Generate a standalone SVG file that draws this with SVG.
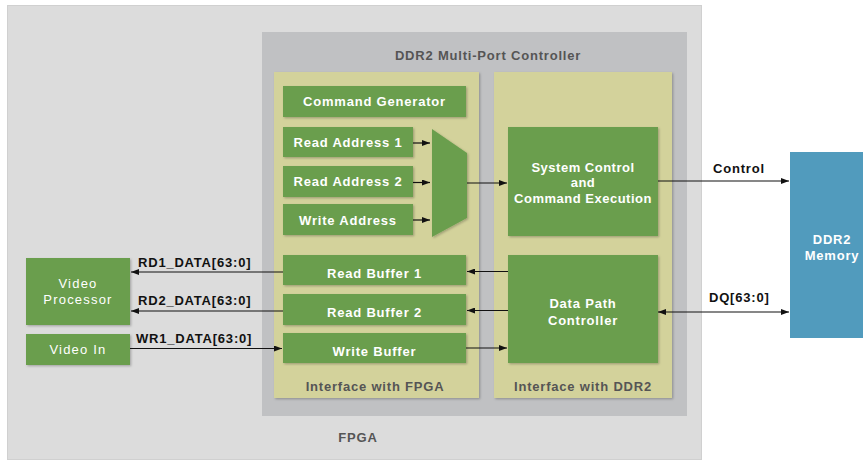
<svg xmlns="http://www.w3.org/2000/svg" width="863" height="461" viewBox="0 0 863 461">
  <defs>
    <filter id="shadow" x="-5%" y="-5%" width="115%" height="115%">
      <feDropShadow dx="1.2" dy="1.2" stdDeviation="0.8" flood-color="#000" flood-opacity="0.25"/>
    </filter>
    <marker id="arrow" viewBox="0 0 8 6" refX="8" refY="3" markerWidth="8" markerHeight="6" markerUnits="userSpaceOnUse" orient="auto-start-reverse">
      <path d="M0,0 L8,3 L0,6 Z" fill="#111"/>
    </marker>
    <style>
      .fpga { fill: #dcdcdc; stroke: #d0d0d0; stroke-width: 1; }
      .ctrl { fill: #c0c1c3; }
      .panel { fill: #d3d29b; filter: url(#shadow); }
      .blk { fill: #6b9e4e; filter: url(#shadow); }
      .mem { fill: #519bbd; }
      .t { font-family: "Liberation Sans", Arial, sans-serif; font-size: 13px; font-weight: bold; letter-spacing: 0.8px; text-anchor: middle; }
      .tight { letter-spacing: 0.5px; }
      .w { fill: #ffffff; }
      .wl { fill: #ffffff; font-weight: normal; letter-spacing: 1.2px; }
      .g { fill: #555555; }
      .k { fill: #111111; text-anchor: start; }
      .wire { stroke: #111; stroke-width: 1.2; fill: none; }
    </style>
  </defs>

  <rect width="863" height="461" fill="#ffffff"/>

  <!-- FPGA boundary -->
  <g id="fpga">
    <rect class="fpga" x="7.5" y="5.5" width="694" height="454"/>
    <text class="t g" x="358" y="442">FPGA</text>
  </g>

  <!-- Multi-port controller -->
  <g id="controller">
    <rect class="ctrl" x="262" y="32" width="425" height="384"/>
    <text class="t g" x="488" y="60">DDR2 Multi-Port Controller</text>
  </g>

  <g id="if-fpga">
    <rect class="panel" x="274" y="72" width="205" height="326"/>
    <text class="t g" x="375" y="390.5">Interface with FPGA</text>
  </g>

  <g id="if-ddr2">
    <rect class="panel" x="494" y="72" width="178" height="326"/>
    <text class="t g" x="583" y="390.5">Interface with DDR2</text>
  </g>

  <g id="cmd-gen">
    <rect class="blk" x="283" y="86" width="183" height="31"/>
    <text class="t w" x="374.5" y="106">Command Generator</text>
  </g>

  <g id="rd-addr-1">
    <rect class="blk" x="283" y="127" width="130" height="30"/>
    <text class="t w" x="348" y="147">Read Address 1</text>
  </g>

  <g id="rd-addr-2">
    <rect class="blk" x="283" y="166" width="130" height="31"/>
    <text class="t w" x="348" y="186">Read Address 2</text>
  </g>

  <g id="wr-addr">
    <rect class="blk" x="283" y="204" width="130" height="31"/>
    <text class="t w" x="348" y="225">Write Address</text>
  </g>

  <g id="mux">
    <path class="blk" d="M432,129 L467,153 L467,218 L432,237 Z"/>
  </g>

  <g id="sys-ctrl">
    <rect class="blk" x="508" y="127" width="150" height="109"/>
    <text class="t w tight" x="583" y="171.5">System Control</text>
    <text class="t w tight" x="583" y="187">and</text>
    <text class="t w tight" x="583" y="202.5">Command Execution</text>
  </g>

  <g id="rd-buf-1">
    <rect class="blk" x="283" y="255" width="183" height="30"/>
    <text class="t w" x="374.5" y="277.5">Read Buffer 1</text>
  </g>

  <g id="rd-buf-2">
    <rect class="blk" x="283" y="294" width="183" height="31"/>
    <text class="t w" x="374.5" y="317">Read Buffer 2</text>
  </g>

  <g id="wr-buf">
    <rect class="blk" x="283" y="333" width="183" height="30"/>
    <text class="t w" x="374.5" y="355.5">Write Buffer</text>
  </g>

  <g id="datapath">
    <rect class="blk" x="508" y="255" width="150" height="108"/>
    <text class="t w" x="583" y="307.5">Data Path</text>
    <text class="t w" x="583" y="325">Controller</text>
  </g>

  <g id="video-proc">
    <rect class="blk" x="26" y="258" width="104" height="67"/>
    <text class="t wl" x="78" y="288">Video</text>
    <text class="t wl" x="78" y="304">Processor</text>
  </g>

  <g id="video-in">
    <rect class="blk" x="26" y="334" width="104" height="31"/>
    <text class="t wl" x="78" y="354">Video In</text>
  </g>

  <g id="ddr2-mem">
    <rect class="mem" x="790" y="152" width="80" height="186"/>
    <text class="t w" x="832" y="244">DDR2</text>
    <text class="t w" x="832" y="260">Memory</text>
  </g>

  <!-- Signal wires -->
  <g id="connectors">
    <line class="wire" x1="413" y1="143" x2="430" y2="143" marker-end="url(#arrow)"/>
    <line class="wire" x1="413" y1="182.5" x2="430" y2="182.5" marker-end="url(#arrow)"/>
    <line class="wire" x1="413" y1="220" x2="430" y2="220" marker-end="url(#arrow)"/>
    <line class="wire" x1="467" y1="183" x2="507" y2="183" marker-end="url(#arrow)"/>
    <line class="wire" x1="658" y1="181" x2="789" y2="181" marker-end="url(#arrow)"/>
    <line class="wire" x1="658" y1="312" x2="789" y2="312" marker-start="url(#arrow)" marker-end="url(#arrow)"/>
    <line class="wire" x1="508" y1="271.5" x2="467" y2="271.5" marker-end="url(#arrow)"/>
    <line class="wire" x1="508" y1="310.5" x2="467" y2="310.5" marker-end="url(#arrow)"/>
    <line class="wire" x1="466" y1="348" x2="507" y2="348" marker-end="url(#arrow)"/>
    <line class="wire" x1="283" y1="272" x2="131" y2="272" marker-end="url(#arrow)"/>
    <line class="wire" x1="283" y1="311" x2="131" y2="311" marker-end="url(#arrow)"/>
    <line class="wire" x1="130" y1="348.5" x2="282" y2="348.5" marker-end="url(#arrow)"/>
    <text class="t k" x="138" y="266.5">RD1_DATA[63:0]</text>
    <text class="t k" x="138" y="305">RD2_DATA[63:0]</text>
    <text class="t k" x="136" y="343">WR1_DATA[63:0]</text>
    <text class="t k" x="713" y="173">Control</text>
    <text class="t k" x="709" y="302">DQ[63:0]</text>
  </g>
</svg>
